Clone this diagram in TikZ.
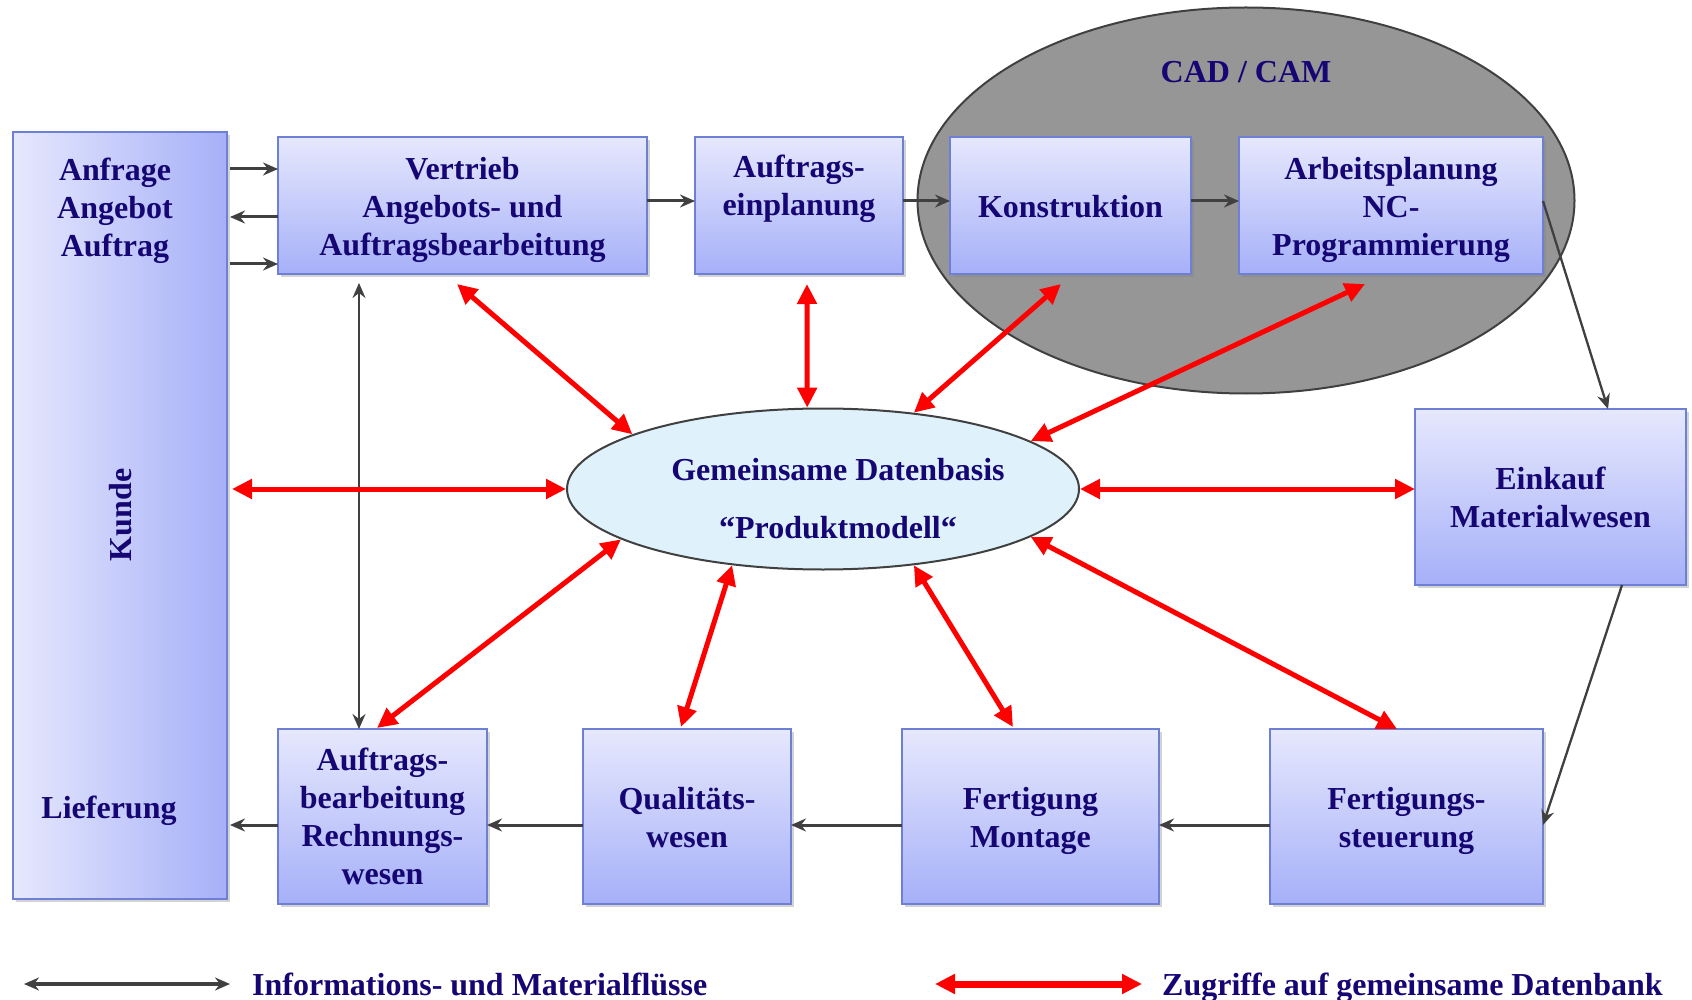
\documentclass[tikz,border=0pt]{standalone}
\usepackage{fontspec}
\setmainfont{Liberation Serif}
\usetikzlibrary{arrows.meta,shadows,shapes.geometric}
\definecolor{navy}{RGB}{22,6,116}
\definecolor{boxtop}{RGB}{230,232,253}
\definecolor{boxbot}{RGB}{166,176,248}
\definecolor{boxline}{RGB}{110,128,214}
\definecolor{arrgray}{RGB}{64,64,64}
\definecolor{dbfill}{RGB}{223,242,252}
\definecolor{cadfill}{RGB}{150,150,150}
\tikzset{
  txt/.style={text=navy, font=\fontsize{32}{38}\selectfont\bfseries, align=center, inner sep=0pt},
  boxbase/.style={draw=boxline, line width=1.5pt,
    drop shadow={opacity=0.35, shadow xshift=3pt, shadow yshift=-3pt}, outer sep=0pt, inner sep=0pt},
  procbox/.style={boxbase, top color=boxtop, bottom color=boxbot},
  flow/.style={draw=arrgray, line width=3pt, -{Stealth[length=15pt,width=13pt,inset=5pt]}},
  flowboth/.style={draw=arrgray, line width=3pt, {Stealth[length=15pt,width=13pt,inset=5pt]}-{Stealth[length=15pt,width=13pt,inset=5pt]}},
  acc/.style={draw=red, line width=5pt, {Triangle[length=20pt,width=19pt]}-{Triangle[length=20pt,width=19pt]}},
}
\begin{document}
\begin{tikzpicture}[x=1pt,y=-1pt]
\useasboundingbox (0,0) rectangle (1692,1000);
% CAD/CAM ellipse
\node[ellipse, draw=arrgray, line width=2pt, fill=cadfill, minimum width=657pt, minimum height=386pt, inner sep=0pt] (cad) at (1246,200.5) {};
\node[txt] (cadlabel) at (1246,72) {CAD / CAM};
% Kunde
\node[boxbase, left color=boxtop, right color=boxbot, minimum width=214pt, minimum height=767pt] (kunde) at (120,515.5) {};
\node[txt] (anfrage) at (115,211) {Anfrage\\Angebot\\Auftrag};
\node[txt, rotate=90] (kundelabel) at (121,515) {Kunde};
\node[txt] (lieferung) at (109,811) {Lieferung};
% top row
\node[procbox, minimum width=369pt, minimum height=137pt] (vertrieb) at (462.5,205.5) {};
\node[txt] (vertriebt) at (462.5,210) {Vertrieb\\Angebots- und\\Auftragsbearbeitung};
\node[procbox, minimum width=208pt, minimum height=137pt] (auftrag) at (799,205.5) {};
\node[txt] (auftragt) at (799,210) {Auftrags-\\einplanung\\\strut};
\node[procbox, minimum width=241pt, minimum height=137pt] (konstr) at (1070.5,205.5) {};
\node[txt] (konstrt) at (1070.5,207) {Konstruktion};
\node[procbox, minimum width=304pt, minimum height=137pt] (arbeit) at (1391,205.5) {};
\node[txt] (arbeitt) at (1391,210) {Arbeitsplanung\\NC-\\Programmierung};
% right
\node[procbox, minimum width=271pt, minimum height=176pt] (einkauf) at (1550.5,497) {};
\node[txt] (einkauft) at (1550.5,497) {Einkauf\\Materialwesen};
% bottom row
\node[procbox, minimum width=209pt, minimum height=175pt] (abr) at (382.5,816.5) {};
\node[txt] (abrt) at (382.5,816.5) {Auftrags-\\bearbeitung\\Rechnungs-\\wesen};
\node[procbox, minimum width=208pt, minimum height=175pt] (qual) at (687,816.5) {};
\node[txt] (qualt) at (687,818) {Qualitäts-\\wesen};
\node[procbox, minimum width=257pt, minimum height=175pt] (fert) at (1030.5,816.5) {};
\node[txt] (fertt) at (1030.5,820.5) {Fertigung\\Montage};
\node[procbox, minimum width=273pt, minimum height=175pt] (steuer) at (1406.5,816.5) {};
\node[txt] (steuert) at (1406.5,820.5) {Fertigungs-\\steuerung};
% database
\node[ellipse, draw=arrgray, line width=2pt, fill=dbfill, minimum width=512pt, minimum height=161pt, inner sep=0pt] (db) at (823,489) {};
\node[txt] (dbtext) at (838,499) {Gemeinsame Datenbasis\\[20pt]“Produktmodell“};
% black flows
\draw[flow] ([xshift=-48pt,yshift=36.5pt]vertrieb.west) -- ([yshift=36.5pt]vertrieb.west);
\draw[flow] ([yshift=-11.5pt]vertrieb.west) -- ([xshift=-48pt,yshift=-11.5pt]vertrieb.west);
\draw[flow] ([xshift=-48pt,yshift=-58.5pt]vertrieb.west) -- ([yshift=-58.5pt]vertrieb.west);
\draw[flow] ([yshift=4.5pt]vertrieb.east) -- ([yshift=4.5pt]auftrag.west);
\draw[flow] ([yshift=4.5pt]auftrag.east) -- ([yshift=4.5pt]konstr.west);
\draw[flow] ([yshift=4.5pt]konstr.east) -- ([yshift=4.5pt]arbeit.west);
\draw[flow, line width=2.3pt] ([yshift=4.5pt]arbeit.east) -- ([xshift=57.5pt]einkauf.north);
\draw[flow, line width=2.3pt] ([xshift=71.5pt]einkauf.south) -- ([yshift=-8.5pt]steuer.east);
\draw[flow] ([yshift=-8.5pt]steuer.west) -- ([yshift=-8.5pt]fert.east);
\draw[flow] ([yshift=-8.5pt]fert.west) -- ([yshift=-8.5pt]qual.east);
\draw[flow] ([yshift=-8.5pt]qual.west) -- ([yshift=-8.5pt]abr.east);
\draw[flow] ([yshift=-8.5pt]abr.west) -- ([xshift=-48pt,yshift=-8.5pt]abr.west);
\draw[flowboth, line width=2.3pt] ([xshift=-103.5pt,yshift=-9pt]vertrieb.south) -- ([xshift=-23.5pt]abr.north);
% red accesses
\draw[acc] ([xshift=-5.5pt,yshift=-10pt]vertrieb.south) -- (db.164);
\draw[acc] ([xshift=8pt,yshift=-10pt]auftrag.south) -- (db.101);
\draw[acc] ([xshift=-9.5pt,yshift=-10pt]konstr.south) -- (db.40);
\draw[acc] ([xshift=-26pt,yshift=-10pt]arbeit.south) -- (db.13);
\draw[acc] ([xshift=5pt]kunde.east |- db.west) -- (db.west);
\draw[acc] (db.east) -- (einkauf.west |- db.east);
\draw[acc] ([xshift=-5.5pt,yshift=1pt]abr.north) -- (db.-166);
\draw[acc] ([xshift=-6pt,yshift=2pt]qual.north) -- (db.220);
\draw[acc] ([xshift=-17.5pt,yshift=2pt]fert.north) -- (db.-40);
\draw[acc] ([xshift=-9.5pt]steuer.north) -- (db.-13);
% legend
\coordinate (la) at (24,984);
\coordinate (lb) at (230,984);
\coordinate (lc) at (935,984);
\coordinate (ld) at (1142,984);
\draw[flowboth, line width=3.5pt] (la) -- (lb);
\draw[acc, line width=7pt] (lc) -- (ld);
\node[txt, anchor=base west] (leg1) at (252,995) {Informations- und Materialflüsse};
\node[txt, anchor=base west] (leg2) at (1162,995) {Zugriffe auf gemeinsame Datenbank};
\end{tikzpicture}
\end{document}
